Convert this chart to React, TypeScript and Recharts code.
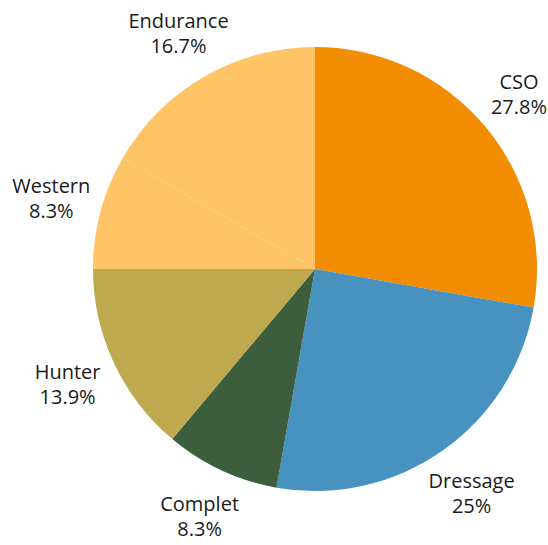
import { Cell, Pie, PieChart } from "recharts";

const disciplines = ["CSO", "Dressage", "Complet", "Hunter", "Western", "Endurance"];
const counts = [10, 9, 3, 5, 3, 6];
const colors = ["#F28C00", "#4892C0", "#3C5E3D", "#BEA94E", "#FFC466", "#FFC466"];

const data = disciplines.map((name, i) => ({ name, value: counts[i] }));

const RADIAN = Math.PI / 180;
const W = 548;

const renderLabel = (props: any) => {
  const { cx, cy, midAngle, name, percent } = props;
  const r = 273;
  let x = cx + r * Math.cos(-midAngle * RADIAN);
  const y = cy + r * Math.sin(-midAngle * RADIAN);
  // keep the label inside the picture
  x = Math.min(x, W - 29);
  const pct = parseFloat((percent * 100).toFixed(1));
  return (
    <text
      x={x}
      y={y}
      textAnchor="middle"
      fill="#1a1a1a"
      fontSize={20}
      fontFamily="'Open Sans', sans-serif"
    >
      <tspan x={x} y={y - 5}>
        {name}
      </tspan>
      <tspan x={x} y={y + 20}>
        {pct}%
      </tspan>
    </text>
  );
};

export default function App() {
  return (
    <div style={{ position: "absolute", left: 0, top: 0, background: "#fff" }}>
      <PieChart width={W} height={545} margin={{ top: 0, right: 0, bottom: 0, left: 0 }}>
        <Pie
          data={data}
          dataKey="value"
          nameKey="name"
          cx={315}
          cy={269}
          outerRadius={222}
          startAngle={90}
          endAngle={-270}
          stroke="none"
          label={renderLabel}
          labelLine={false}
          isAnimationActive={false}
        >
          {data.map((d, i) => (
            <Cell key={d.name} fill={colors[i]} />
          ))}
        </Pie>
      </PieChart>
    </div>
  );
}
